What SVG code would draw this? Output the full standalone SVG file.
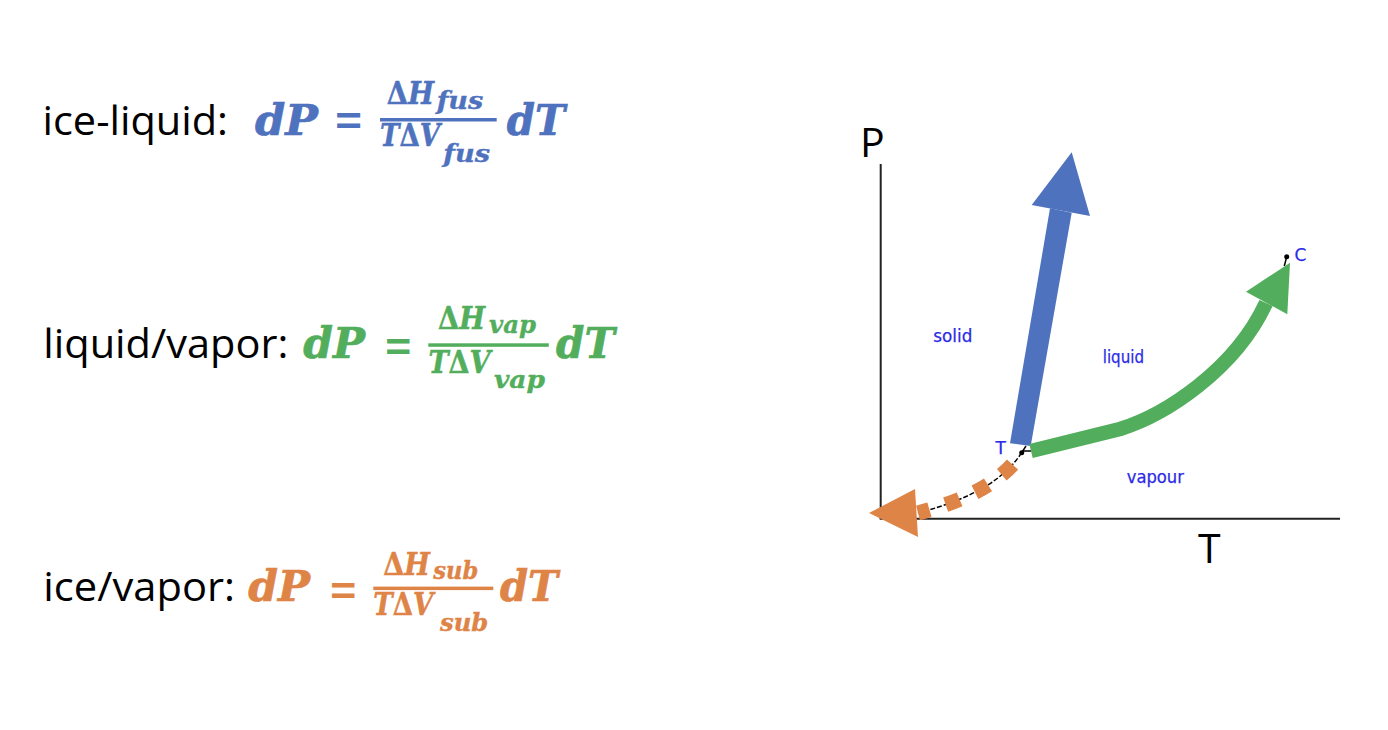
<svg xmlns="http://www.w3.org/2000/svg" width="1388" height="730" viewBox="0 0 1388 730">
<style>
.lbl{font-family:"Open Sans","Liberation Sans",sans-serif;font-size:41px;fill:#000}
.m{font-family:"DejaVu Serif","Liberation Serif",serif;font-weight:bold;font-style:italic;font-size:42px;stroke-width:0.7px}
.fr{font-family:"DejaVu Serif","Liberation Serif",serif;font-weight:bold;font-style:italic;font-size:31px;stroke-width:0.5px}
.sub{font-size:25px;stroke-width:0.4px}
.eq{font-family:"DejaVu Sans","Liberation Sans",sans-serif;font-weight:normal;font-size:54px}
.up{font-style:normal}
.blue{fill:#4F72BE;stroke:#4F72BE}.green{fill:#52AE5C;stroke:#52AE5C}.orange{fill:#DF8447;stroke:#DF8447}
.blue rect,.green rect,.orange rect,.eq{stroke:none}
.axl{font-family:"Open Sans","Liberation Sans",sans-serif;font-size:41px;fill:#000}
.rg{font-family:"DejaVu Sans","Liberation Sans",sans-serif;font-size:17px;fill:#2B2BE6;stroke:#2B2BE6;stroke-width:0.25px}
.axis{stroke:#222;stroke-width:2;fill:none}
</style>
<rect width="1388" height="730" fill="#fff"/>

<g id="eq-ice-liquid">
<text class="lbl" x="42.5" y="134.7" textLength="185.5" lengthAdjust="spacingAndGlyphs">ice-liquid:</text>
<g class="blue">
<text class="m" x="255" y="134.7" textLength="63" lengthAdjust="spacingAndGlyphs">dP</text>
<text class="eq" x="333.3" y="137" textLength="30.7" lengthAdjust="spacingAndGlyphs">=</text>
<rect x="380" y="118" width="116.7" height="3.5"/>
<text class="fr" x="386.7" y="104"><tspan textLength="47.3" lengthAdjust="spacingAndGlyphs"><tspan class="up">Δ</tspan>H</tspan><tspan class="sub" x="436.7" dy="4.7" textLength="46.6" lengthAdjust="spacingAndGlyphs">fus</tspan></text>
<text class="fr" x="380" y="146.3"><tspan textLength="60" lengthAdjust="spacingAndGlyphs">T<tspan class="up">Δ</tspan>V</tspan><tspan class="sub" x="443.3" dy="15.7" textLength="46.7" lengthAdjust="spacingAndGlyphs">fus</tspan></text>
<text class="m" x="506.7" y="134.7" textLength="58.3" lengthAdjust="spacingAndGlyphs">dT</text>
</g>
</g>

<g id="eq-liquid-vapor">
<text class="lbl" x="43.3" y="358" textLength="245" lengthAdjust="spacingAndGlyphs">liquid/vapor:</text>
<g class="green">
<text class="m" x="303.3" y="357.7" textLength="61.7" lengthAdjust="spacingAndGlyphs">dP</text>
<text class="eq" x="383.3" y="363" textLength="30" lengthAdjust="spacingAndGlyphs">=</text>
<rect x="428.3" y="343.3" width="120.5" height="3.5"/>
<text class="fr" x="438" y="329"><tspan textLength="47" lengthAdjust="spacingAndGlyphs"><tspan class="up">Δ</tspan>H</tspan><tspan class="sub" x="489" dy="4" textLength="47" lengthAdjust="spacingAndGlyphs">vap</tspan></text>
<text class="fr" x="428.5" y="372.5"><tspan textLength="62" lengthAdjust="spacingAndGlyphs">T<tspan class="up">Δ</tspan>V</tspan><tspan class="sub" x="494" dy="15.5" textLength="51" lengthAdjust="spacingAndGlyphs">vap</tspan></text>
<text class="m" x="556" y="357.7" textLength="58.6" lengthAdjust="spacingAndGlyphs">dT</text>
</g>
</g>

<g id="eq-ice-vapor">
<text class="lbl" x="43.3" y="601.3" textLength="191.7" lengthAdjust="spacingAndGlyphs">ice/vapor:</text>
<g class="orange">
<text class="m" x="248.3" y="601" textLength="61.7" lengthAdjust="spacingAndGlyphs">dP</text>
<text class="eq" x="328.3" y="607" textLength="30" lengthAdjust="spacingAndGlyphs">=</text>
<rect x="373.3" y="586.6" width="120" height="3.5"/>
<text class="fr" x="383.3" y="575"><tspan textLength="46.7" lengthAdjust="spacingAndGlyphs"><tspan class="up">Δ</tspan>H</tspan><tspan class="sub" x="433.3" dy="4" textLength="45" lengthAdjust="spacingAndGlyphs">sub</tspan></text>
<text class="fr" x="373.3" y="615"><tspan textLength="60" lengthAdjust="spacingAndGlyphs">T<tspan class="up">Δ</tspan>V</tspan><tspan class="sub" x="440" dy="16" textLength="48.3" lengthAdjust="spacingAndGlyphs">sub</tspan></text>
<text class="m" x="500" y="601" textLength="58" lengthAdjust="spacingAndGlyphs">dT</text>
</g>
</g>

<g id="axes">
<line class="axis" x1="880.7" y1="164" x2="880.7" y2="519"/>
<line class="axis" x1="879.7" y1="518.7" x2="1340" y2="518.7"/>
<text class="axl" x="860" y="157.3">P</text>
<text class="axl" x="1198" y="563.3">T</text>
</g>

<g id="region-labels">
<text class="rg" x="933.3" y="341.7" textLength="39" lengthAdjust="spacingAndGlyphs">solid</text>
<text class="rg" x="1102.7" y="362.7" textLength="41.3" lengthAdjust="spacingAndGlyphs">liquid</text>
<text class="rg" x="1126.7" y="483.3" textLength="57.3" lengthAdjust="spacingAndGlyphs">vapour</text>
</g>

<g id="triple-point">
<circle cx="1021.7" cy="452.7" r="2.5" fill="#000"/>
<path d="M1021.7,452.7 L1026,446 M1022,451 L1031,451" stroke="#000" stroke-width="1.5" fill="none"/>
<text class="rg" x="995.5" y="454">T</text>
</g>

<g id="critical-point">
<circle cx="1286.7" cy="256.7" r="2.5" fill="#000"/>
<path d="M1286.7,256.7 L1284.3,266" stroke="#000" stroke-width="1.5" fill="none"/>
<text class="rg" x="1294.5" y="260.7">C</text>
</g>

<g id="connectors">
<path d="M1021.7,452.7 C1005,478 975,498 918,513" stroke="#000" stroke-width="1.5" stroke-dasharray="5 2" fill="none"/>
<path d="M1021.7,452.7 C1005,478 975,498 918,513" stroke="#DF8447" stroke-width="15" stroke-dasharray="15 17" stroke-dashoffset="17" fill="none"/>
<polygon points="869,513 915,489 918,537" fill="#DF8447"/>
<polygon points="1010,443.3 1030.7,446 1071.7,212.7 1050,208.3" fill="#4F72BE"/>
<polygon points="1031.7,205 1071.7,152.3 1090,216" fill="#4F72BE"/>
<path d="M1031,451 L1120,429 C1165,415 1235,370 1266,303" stroke="#52AE5C" stroke-width="14.5" fill="none"/>
<polygon points="1246,291.7 1290,262.7 1287.3,314.3" fill="#52AE5C"/>
</g>
</svg>
